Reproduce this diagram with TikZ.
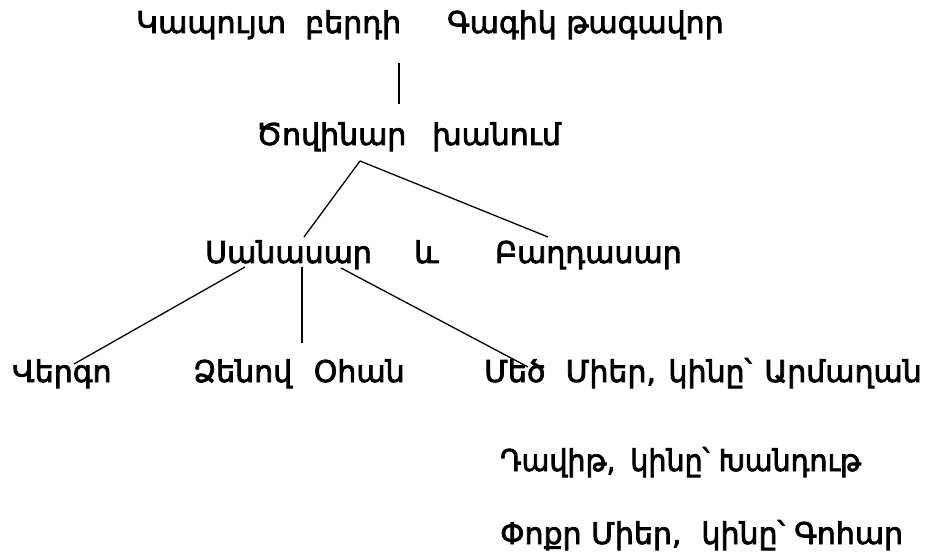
\documentclass[tikz,border=0pt]{standalone}
\usepackage{fontspec}
\usepackage{graphicx}
\setmainfont{DejaVu Sans}
\newfontfamily\armfont{DejaVu Sans}[FakeBold=2.5]
\begin{document}
\begin{tikzpicture}[x=1pt,y=-1pt,
  lbl/.style={inner sep=0pt,anchor=base west,font=\armfont\fontsize{30}{36}\selectfont},
  conn/.style={line width=1.3pt,black}]
\useasboundingbox (0,0) rectangle (927,556);
\fill[white] (0,0) rectangle (927,556);
% texts
\node[lbl] (r1a) at (136,33) {Կապույտ};
\node[lbl] (r1b) at (305,33) {բերդի};
\node[lbl] (r1c) at (447,33) {Գագիկ թագավոր};
\node[lbl] (r2a) at (256,145) {Ծովինար};
\node[lbl] (r2b) at (432,145) {խանում};
\node[lbl] (r3a) at (205,263) {Սանասար};
\node[lbl] (r3b) at (414,263) {և};
\node[lbl] (r3c) at (495,263) {Բաղդասար};
\node[lbl] (r4a) at (12,382) {Վերգո};
\node[lbl] (r4b) at (193,382) {Ձենով\hspace*{12pt} Օհան};
\node[lbl] (r4c) at (484,382) {Մեծ\hspace*{20pt}Միեր,\hspace*{3pt} կինը՝\hspace*{3pt} Արմաղան};
\node[lbl] (r5) at (500,471) {\scalebox{0.95}[1]{Դավիթ,\hspace*{6pt} կինը՝ Խանդութ}};
\node[lbl] (r6) at (500,544) {Փոքր Միեր,\hspace*{20pt}կինը՝ Գոհար};
% connector end points
\coordinate (p1) at (399,63);
\coordinate (p2) at (399,104);
\coordinate (q0) at (360,161);
\coordinate (q1) at (304,237);
\coordinate (q2) at (548,237);
\coordinate (s0) at (245,267);
\coordinate (s1) at (74,364);
\coordinate (t0) at (302,267);
\coordinate (t1) at (302,343);
\coordinate (u0) at (341,268);
\coordinate (u1) at (528,367);
\draw[conn] (p1) -- (p2);
\draw[conn] (q0) -- (q1);
\draw[conn] (q0) -- (q2);
\draw[conn] (s0) -- (s1);
\draw[conn] (t0) -- (t1);
\draw[conn] (u0) -- (u1);
\end{tikzpicture}
\end{document}
